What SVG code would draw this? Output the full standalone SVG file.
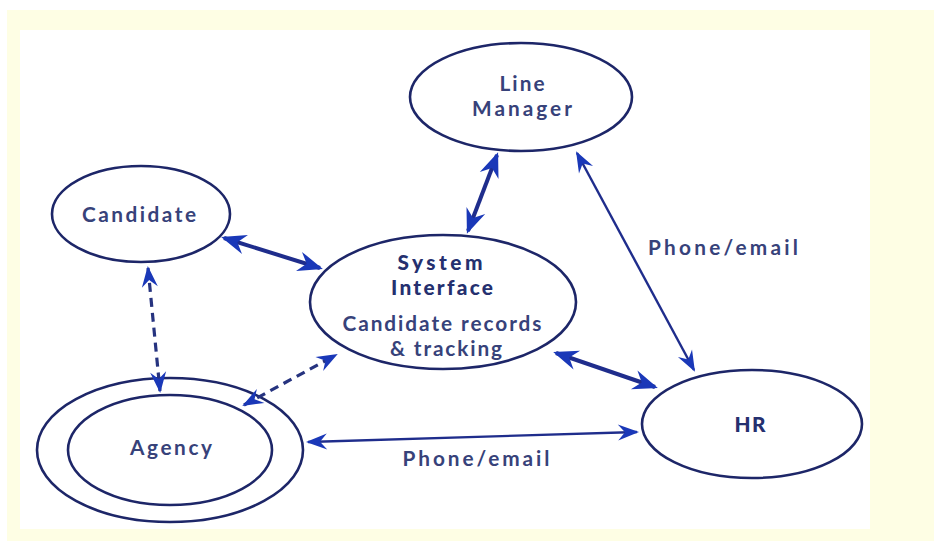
<svg xmlns="http://www.w3.org/2000/svg" width="934" height="541" viewBox="0 0 934 541">
  <style>
    .node { fill: #ffffff; stroke: #1d2668; stroke-width: 2.6; }
    .label { font-family: Lato, "Open Sans", "DejaVu Sans", sans-serif; font-weight: 700; font-size: 20.8px; fill: #37427a; text-anchor: middle; }
    .bold { font-weight: 900; fill: #25306f; }
    .thick { stroke: #1f2d8c; stroke-width: 4; fill: none; }
    .thin { stroke: #1f2d8c; stroke-width: 2.4; fill: none; }
    .dash { stroke: #26337f; stroke-width: 3.2; fill: none; stroke-dasharray: 9 6; }
  </style>
  <defs>
    <marker id="headBig" markerUnits="userSpaceOnUse" markerWidth="32" markerHeight="26" viewBox="-24 -13 32 26" refX="0" refY="0" orient="auto-start-reverse">
      <path d="M3,0 L-22,-10 L-14,0 L-22,10 Z" fill="#1a38b8"/>
    </marker>
    <marker id="headSmall" markerUnits="userSpaceOnUse" markerWidth="28" markerHeight="22" viewBox="-22 -11 28 22" refX="0" refY="0" orient="auto-start-reverse">
      <path d="M2,0 L-19,-8 L-12,0 L-19,8 Z" fill="#1a38b8"/>
    </marker>
  </defs>

  <!-- page background and panel -->
  <rect x="0" y="0" width="934" height="541" fill="#ffffff"/>
  <rect x="7" y="10" width="927" height="531" fill="#fefee4"/>
  <rect x="20" y="30" width="850" height="499" fill="#ffffff"/>

  <g id="line-manager">
    <ellipse class="node" cx="521" cy="97" rx="111" ry="54"/>
    <text class="label" x="522" y="91" textLength="45" lengthAdjust="spacing">Line</text>
    <text class="label" x="522" y="116" textLength="100" lengthAdjust="spacing">Manager</text>
  </g>

  <g id="candidate">
    <ellipse class="node" cx="141" cy="214" rx="89" ry="48"/>
    <text class="label" x="139" y="222" textLength="114" lengthAdjust="spacing">Candidate</text>
  </g>

  <g id="system-interface">
    <ellipse class="node" cx="443" cy="302" rx="133" ry="67"/>
    <text class="label bold" x="440" y="270" textLength="85" lengthAdjust="spacing">System</text>
    <text class="label bold" x="442" y="295" textLength="102" lengthAdjust="spacing">Interface</text>
    <text class="label" x="442" y="331" textLength="199" lengthAdjust="spacing">Candidate records</text>
    <text class="label" x="446" y="356" textLength="112" lengthAdjust="spacing">&amp; tracking</text>
  </g>

  <g id="agency">
    <ellipse class="node" cx="170" cy="450" rx="133" ry="72"/>
    <ellipse class="node" cx="170" cy="450" rx="102" ry="55"/>
    <text class="label" x="171" y="455" textLength="82" lengthAdjust="spacing">Agency</text>
  </g>

  <g id="hr">
    <ellipse class="node" cx="752" cy="424" rx="110" ry="54"/>
    <text class="label bold" x="750" y="432" textLength="31" lengthAdjust="spacing">HR</text>
  </g>

  <!-- connectors, drawn over the node outlines -->
  <g id="connectors">
    <line class="thick" x1="224" y1="238" x2="320" y2="268" marker-start="url(#headBig)" marker-end="url(#headBig)"/>
    <line class="thick" x1="468" y1="231" x2="497" y2="155" marker-start="url(#headBig)" marker-end="url(#headBig)"/>
    <line class="thin" x1="577" y1="153" x2="694" y2="370" marker-start="url(#headSmall)" marker-end="url(#headSmall)"/>
    <line class="thick" x1="556" y1="353" x2="655" y2="387" marker-start="url(#headBig)" marker-end="url(#headBig)"/>
    <line class="thin" x1="308" y1="442" x2="637" y2="432" marker-start="url(#headSmall)" marker-end="url(#headSmall)"/>
    <line class="dash" x1="148" y1="268" x2="160" y2="391" marker-start="url(#headSmall)" marker-end="url(#headSmall)"/>
    <line class="dash" x1="244" y1="405" x2="336" y2="355" marker-start="url(#headSmall)" marker-end="url(#headSmall)"/>
    <text class="label" x="723" y="255" textLength="150" lengthAdjust="spacing">Phone/email</text>
    <text class="label" x="476" y="466" textLength="147" lengthAdjust="spacing">Phone/email</text>
  </g>
</svg>
